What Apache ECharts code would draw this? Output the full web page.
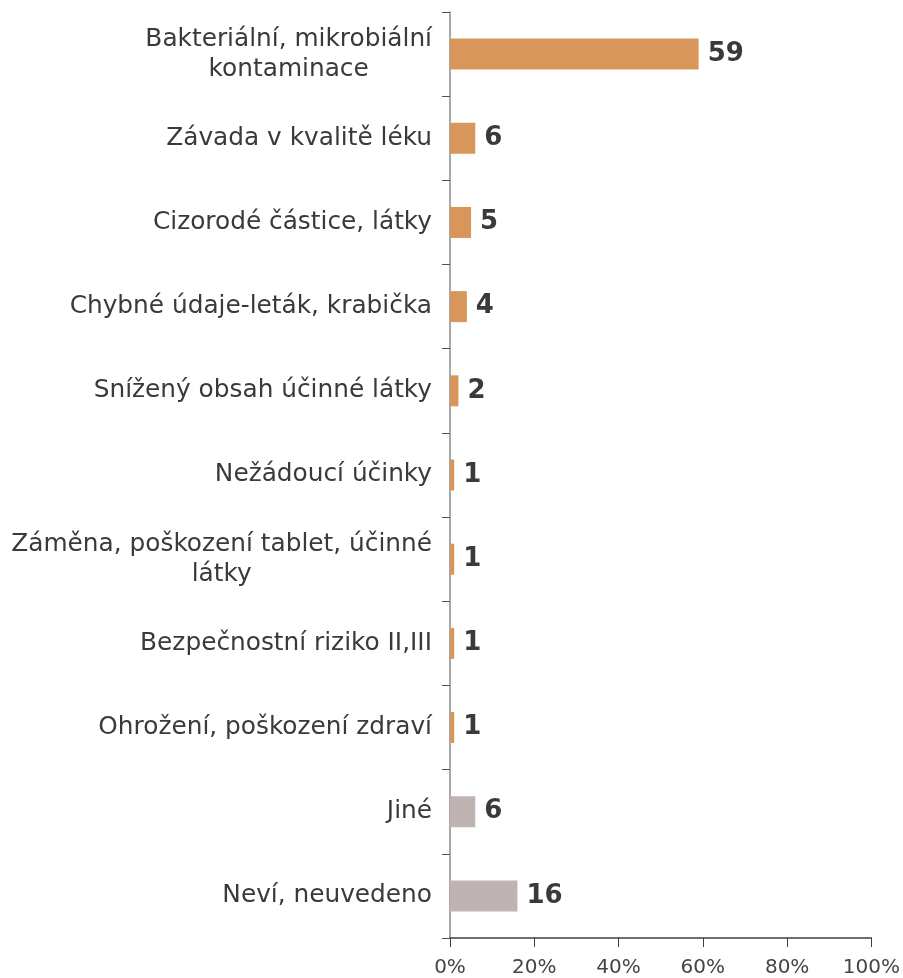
<!DOCTYPE html>
<html>
<head>
<meta charset="utf-8">
<script src="https://cdn.jsdelivr.net/npm/echarts@6/dist/echarts.min.js"></script>
<style>
  html, body { margin: 0; padding: 0; background: #fff; }
  #chart { width: 903px; height: 978px; }
</style>
</head>
<body>
<div id="chart"></div>
<script>
// categories, top to bottom
const categories = [
  "Bakteriální, mikrobiální\nkontaminace",
  "Závada v kvalitě léku",
  "Cizorodé částice, látky",
  "Chybné údaje-leták, krabička",
  "Snížený obsah účinné látky",
  "Nežádoucí účinky",
  "Záměna, poškození tablet, účinné\nlátky",
  "Bezpečnostní riziko II,III",
  "Ohrožení, poškození zdraví",
  "Jiné",
  "Neví, neuvedeno"
];
const values = [59, 6, 5, 4, 2, 1, 1, 1, 1, 6, 16];
// categories drawn in grey instead of orange
const otherCategories = ["Jiné", "Neví, neuvedeno"];
const xTicks = [0, 20, 40, 60, 80, 100];

const textColor = "#3a3a3e";
const font = "'DejaVu Sans'";

const chart = echarts.init(document.getElementById("chart"));
chart.setOption({
  backgroundColor: "#ffffff",
  animation: false,
  textStyle: { fontFamily: font },
  grid: { left: 450, right: 31, top: 12, bottom: 40, containLabel: false },
  xAxis: {
    type: "value",
    min: xTicks[0],
    max: xTicks[xTicks.length - 1],
    interval: xTicks[1] - xTicks[0],
    axisLine: { show: true, lineStyle: { color: "#404040", width: 1.5 } },
    axisTick: { show: true, length: 9, lineStyle: { color: "#404040", width: 1 } },
    splitLine: { show: false },
    axisLabel: {
      formatter: "{value}%",
      fontSize: 20,
      fontFamily: font,
      color: "#454548",
      margin: 20
    }
  },
  yAxis: {
    type: "category",
    inverse: true,
    data: categories,
    axisLine: { show: true, lineStyle: { color: "#8c8c8c", width: 1.5 } },
    axisTick: { show: true, length: 8, alignWithLabel: false, lineStyle: { color: "#555", width: 1 } },
    axisLabel: {
      margin: 18,
      fontFamily: font,
      formatter: function (v) {
        return v.split("\n").map(function (s) { return "{c|" + s + "}"; }).join("\n");
      },
      rich: {
        c: {
          fontSize: 24.8,
          fontFamily: font,
          color: textColor,
          lineHeight: 30,
          align: "center"
        }
      }
    }
  },
  series: [{
    type: "bar",
    data: values,
    barWidth: 31,
    itemStyle: {
      color: function (p) {
        return otherCategories.indexOf(p.name) >= 0 ? "#bfb4b1" : "#d9965b";
      }
    },
    label: {
      show: true,
      position: "right",
      distance: 9,
      fontSize: 26,
      fontWeight: "bold",
      fontFamily: font,
      color: textColor
    }
  }]
});
</script>
</body>
</html>
